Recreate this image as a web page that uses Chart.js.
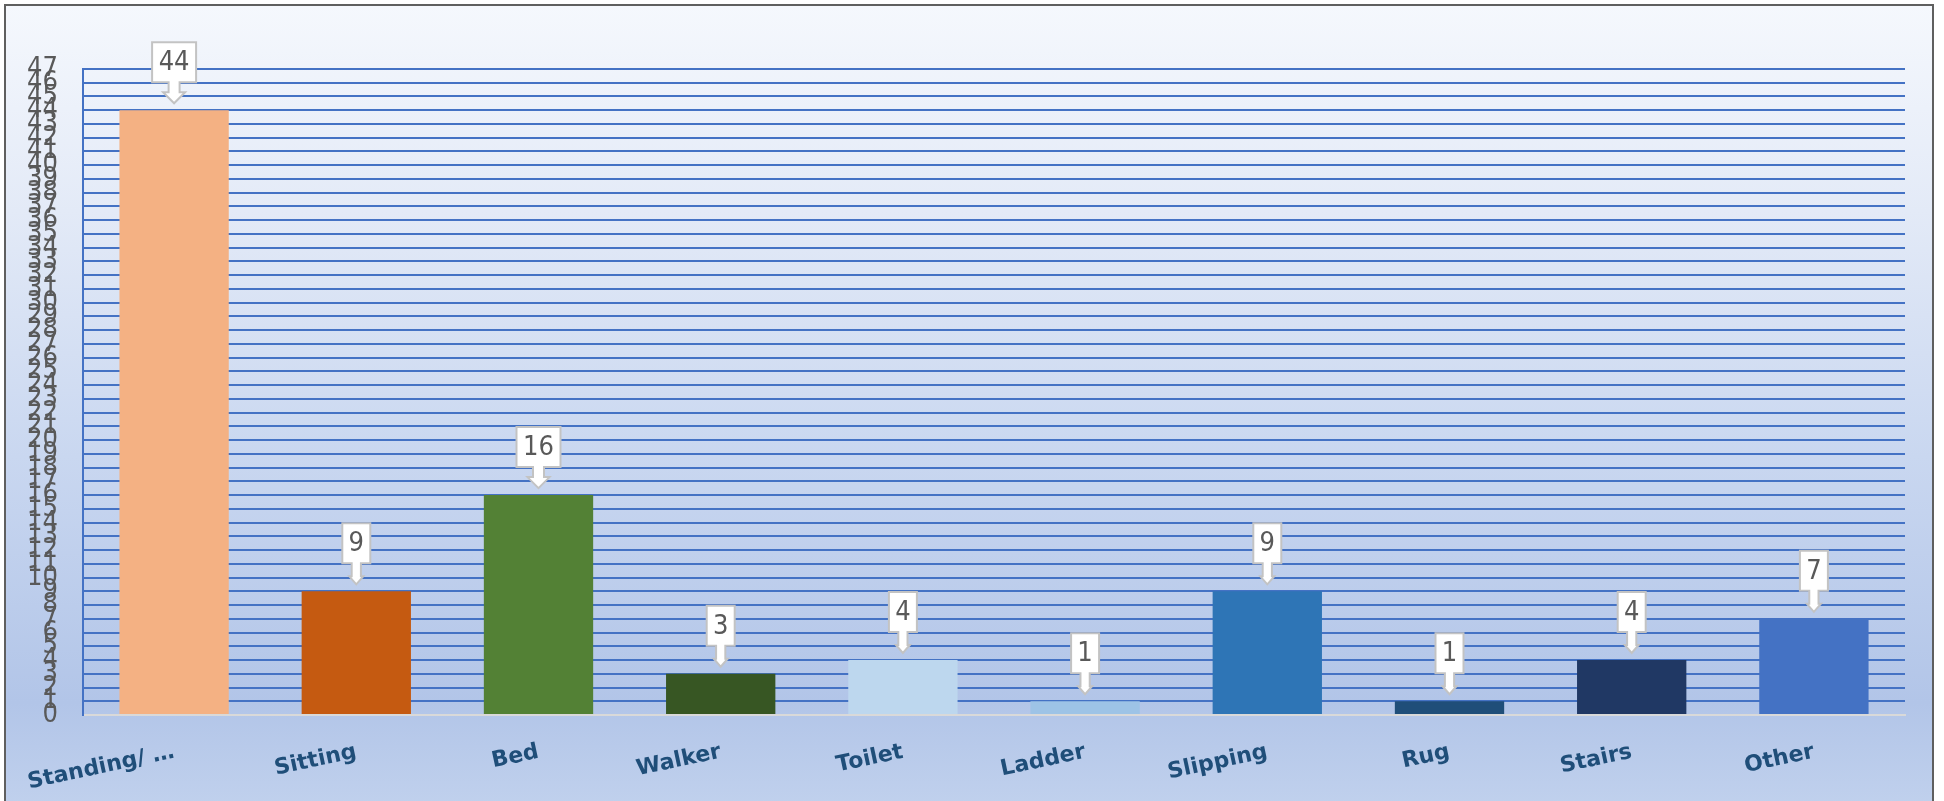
<!DOCTYPE html>
<html>
<head>
<meta charset="utf-8">
<script src="https://cdn.jsdelivr.net/npm/chart.js@4/dist/chart.umd.min.js"></script>
<style>
  html, body { margin: 0; padding: 0; background: #ffffff; }
  #wrap { position: relative; width: 1944px; height: 801px; overflow: hidden; }
  #frame {
    position: absolute; left: 4px; top: 4px; width: 1926px; height: 820px;
    border: 2px solid #5f5f5f;
    background: linear-gradient(to bottom, #f5f8fd 0%, #e3eaf7 25%, #c9d7f0 55%, #b2c5e8 85%, #c3d3ee 100%);
  }
  canvas { position: absolute; left: 0; top: 0; }
</style>
</head>
<body>
<div id="wrap">
  <div id="frame"></div>
  <canvas id="c" width="1944" height="801"></canvas>
</div>
<script>
const categories = ["Standing/ \u2026", "Sitting", "Bed", "Walker", "Toilet", "Ladder", "Slipping", "Rug", "Stairs", "Other"];
const counts = [44, 9, 16, 3, 4, 1, 9, 1, 4, 7];
const barColors = ["#F4B183", "#C55A11", "#538135", "#375623", "#BDD7EE", "#9DC3E6", "#2E75B6", "#1F4E79", "#203864", "#4472C4"];
const yMax = 47;

const labelFont = '27px "DejaVu Sans Condensed", "DejaVu Sans", sans-serif';

const calloutPlugin = {
  id: 'callouts',
  afterDatasetsDraw(chart) {
    const ctx = chart.ctx;
    const meta = chart.getDatasetMeta(0);
    ctx.save();
    ctx.font = labelFont;
    meta.data.forEach((bar, i) => {
      const txt = String(chart.data.datasets[0].data[i]);
      const tw = ctx.measureText(txt).width;
      const bw = Math.round(tw + 13);
      const bh = 40;
      const cx = bar.x;
      const top = bar.y;
      const tipY = top - 7;
      const boxBottom = top - 28;
      const boxTop = boxBottom - bh;
      const headW = bw * 0.5;
      const shaftW = Math.min(11, bw * 0.33);
      const headStart = boxBottom + (bw > 35 ? 10 : 13);
      const l = cx - bw / 2, r = cx + bw / 2;
      ctx.beginPath();
      ctx.moveTo(l, boxTop);
      ctx.lineTo(r, boxTop);
      ctx.lineTo(r, boxBottom);
      ctx.lineTo(cx + shaftW / 2, boxBottom);
      ctx.lineTo(cx + shaftW / 2, headStart);
      ctx.lineTo(cx + headW / 2, headStart);
      ctx.lineTo(cx, tipY);
      ctx.lineTo(cx - headW / 2, headStart);
      ctx.lineTo(cx - shaftW / 2, headStart);
      ctx.lineTo(cx - shaftW / 2, boxBottom);
      ctx.lineTo(l, boxBottom);
      ctx.closePath();
      ctx.fillStyle = '#ffffff';
      ctx.fill();
      ctx.lineWidth = 2;
      ctx.strokeStyle = '#c3c3c3';
      ctx.lineJoin = 'miter';
      ctx.stroke();
      ctx.fillStyle = '#595959';
      ctx.textAlign = 'center';
      ctx.textBaseline = 'middle';
      ctx.fillText(txt, cx, boxTop + bh / 2 + 1);
    });
    ctx.restore();
  }
};

new Chart(document.getElementById('c'), {
  type: 'bar',
  data: {
    labels: categories,
    datasets: [{
      data: counts,
      backgroundColor: barColors,
      borderWidth: 0,
      categoryPercentage: 1.0,
      barPercentage: 0.6
    }]
  },
  options: {
    responsive: false,
    animation: false,
    devicePixelRatio: 1,
    layout: { padding: { left: 0, right: 39, top: 69, bottom: 0 } },
    plugins: { legend: { display: false }, tooltip: { enabled: false } },
    scales: {
      x: {
        grid: { display: false, drawTicks: false },
        border: { display: true, color: '#d9d9d9', width: 2 },
        ticks: {
          autoSkip: false,
          minRotation: 12,
          maxRotation: 12,
          padding: 24,
          color: '#1F4E79',
          font: { family: '"DejaVu Sans", sans-serif', weight: 'bold', size: 22 }
        },
        afterFit(scale) { scale.height = 86; }
      },
      y: {
        min: 0,
        max: yMax,
        grid: {
          drawTicks: false,
          lineWidth: 2,
          color: (c) => (c.tick && c.tick.value === 0) ? '#d9d9d9' : '#4472C4'
        },
        border: { display: true, color: '#4472C4', width: 2 },
        ticks: {
          stepSize: 1,
          autoSkip: false,
          padding: 25,
          color: '#595959',
          font: { family: '"DejaVu Sans Condensed", "DejaVu Sans", sans-serif', size: 27 }
        },
        afterFit(scale) { scale.width = 82; }
      }
    }
  },
  plugins: [calloutPlugin]
});
</script>
</body>
</html>
